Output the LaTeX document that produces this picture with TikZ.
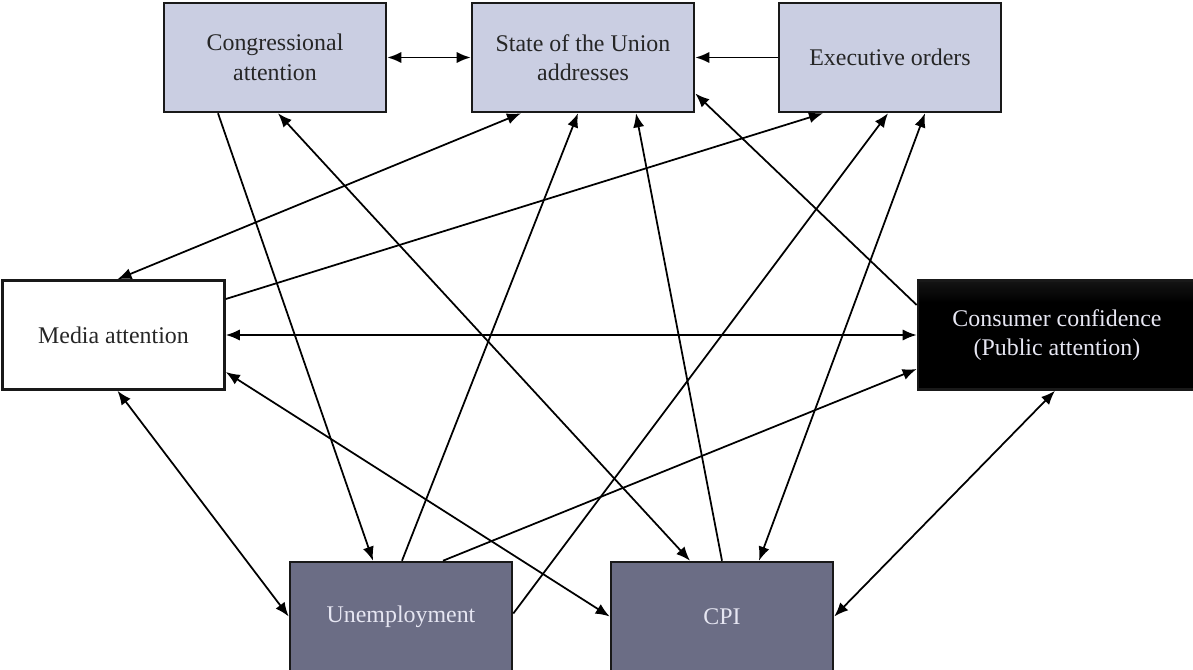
\documentclass[tikz,border=0pt]{standalone}
\usepackage{fontspec}
\setmainfont{Liberation Serif}
\usetikzlibrary{arrows.meta,calc}

\definecolor{lightbox}{RGB}{202,206,226}
\definecolor{darkbox}{RGB}{107,109,133}
\definecolor{paletext}{RGB}{230,230,242}
\pgfdeclareverticalshading{blackfade}{100bp}{color(0bp)=(black); color(65bp)=(black); color(100bp)=(black!72)}

\begin{document}
\begin{tikzpicture}[x=0.025cm, y=-0.025cm,
    box/.style={draw=black!90, line width=1.8pt, minimum width=5.55cm, minimum height=2.725cm,
      inner sep=0pt, align=center, font=\fontsize{17}{21}\selectfont},
    agenda/.style={box, fill=lightbox, text=black!85},
    econ/.style={box, fill=darkbox, text=paletext},
    link/.style={line width=1.25pt, -{Latex[length=10pt,width=8pt]}},
    bilink/.style={line width=1.25pt, {Latex[length=10pt,width=8pt]}-{Latex[length=10pt,width=8pt]}}]
  \useasboundingbox (0,0) rectangle (1193,670);

  % top row
  \node[agenda] (cong) at (275,57.5) {Congressional\\attention};
  \node[agenda] (sotu) at (583,57.5) {State of the Union\\addresses};
  \node[agenda] (exec) at (890,57.5) {Executive orders};

  % middle row
  \node[box, fill=white, text=black!85] (media) at (113.5,335) {Media attention};
  \node[box, shading=blackfade, minimum width=6.95cm, text=paletext] (cons) at (1057,335) {Consumer confidence\\(Public attention)};

  % bottom row
  \node[econ] (unemp) at (401,616.5) {Unemployment};
  \node[econ] (cpi) at (722,616.5) {CPI};

  % links among agendas
  \draw[bilink] (cong.east) -- (sotu.west);
  \draw[link] (exec.west) -- (sotu.east);
  \draw[link] ($(cong.south)+(-57,0)$) -- ($(unemp.north)+(-28,0)$);
  \draw[bilink] ($(cpi.north)+(-32,0)$) -- ($(cong.south)+(3,0)$);

  % media
  \draw[bilink] ($(media.north)+(4,0)$) -- ($(sotu.south)+(-62,0)$);
  \draw[link] ($(media.east)+(0,-36)$) -- ($(exec.south)+(-67,0)$);
  \draw[bilink] (media.east) -- (cons.west);
  \draw[bilink] ($(media.east)+(0,37)$) -- (cpi.west);
  \draw[bilink] ($(media.south)+(4,0)$) -- (unemp.west);

  % economy
  \draw[link] ($(unemp.north)+(1,0)$) -- ($(sotu.south)+(-5,0)$);
  \draw[link] ($(unemp.east)+(0,-3)$) -- ($(exec.south)+(-2,0)$);
  \draw[link] ($(unemp.north)+(42,0)$) -- ($(cons.west)+(0,34)$);
  \draw[link] (cpi.north) -- ($(sotu.south)+(53,0)$);
  \draw[bilink] ($(cpi.north)+(37,0)$) -- ($(exec.south)+(35,0)$);
  \draw[link] ($(cons.west)+(0,-30)$) -- ($(sotu.east)+(0,36)$);
  \draw[bilink] ($(cons.south)+(-2,0)$) -- (cpi.east);
\end{tikzpicture}
\end{document}
